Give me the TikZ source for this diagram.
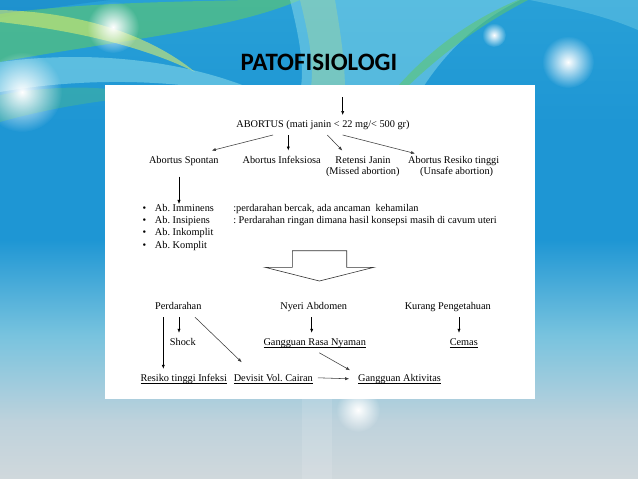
\documentclass[tikz,border=0pt]{standalone}
\usepackage{fontspec}
\setmainfont{Liberation Serif}
\newfontfamily\slideTitleFont{Carlito}
\usetikzlibrary{positioning, arrows.meta, calc, fadings}
\frenchspacing

\definecolor{bgTop}{RGB}{40,160,215}
\definecolor{bgMid}{RGB}{30,150,212}
\definecolor{bgLow}{RGB}{120,195,222}
\definecolor{bgPale}{RGB}{190,210,220}
\definecolor{bgBot}{RGB}{208,216,220}
\definecolor{swGreen}{RGB}{95,200,105}
\definecolor{swYellow}{RGB}{215,235,110}
\definecolor{swCyan}{RGB}{150,225,235}
\definecolor{swDeep}{RGB}{15,120,190}
\definecolor{arrowGray}{RGB}{60,60,60}

\pgfdeclareverticalshading{slidebg}{100bp}{color(0bp)=(bgBot); color(25bp)=(bgBot);
  color(31bp)=(bgPale); color(40bp)=(bgLow); color(50bp)=(bgMid); color(62bp)=(bgMid);
  color(75bp)=(bgTop); color(100bp)=(bgTop)}
\tikzfading[name=softglow, inner color=transparent!0, outer color=transparent!100]

\def\rowOne{127.5}
\def\rowTwo{163}
\def\lineGap{11.7}
\def\rowA{309.7}
\def\rowB{345.3}
\def\rowC{381.3}

\newcommand{\ulText}[1]{\underline{\smash{#1}}}
\newcommand{\PatoStyles}{
  \tikzset{
    term/.style={inner sep=0pt, outer sep=5pt, anchor=base,
      text height=7.5pt, text depth=2.5pt,
      font=\fontsize{10.3}{12}\selectfont},
    listbox/.style={inner sep=0pt, outer sep=0pt, anchor=base west,
      font=\fontsize{10.3}{12.2}\selectfont},
    titletext/.style={inner sep=0pt, font=\slideTitleFont\bfseries\fontsize{25}{29}\selectfont},
    arr/.style={-{Latex[length=4pt,width=3.2pt]}, line width=0.55pt, draw=black},
    slant/.style={arr, draw=arrowGray},
    glow/.style={white, path fading=softglow}
  }
}

\begin{document}
\begin{tikzpicture}[x=1pt, y=-1pt]
  \PatoStyles
  \useasboundingbox (0,0) rectangle (638,479);

  % slide background
  \fill[shading=slidebg] (0,0) rectangle (638,479);
  \fill[swDeep, opacity=.35] (0,0) -- (110,0) .. controls (60,6) and (25,12) .. (0,18) -- cycle;
  \fill[swGreen, opacity=.6] (0,14) .. controls (70,4) and (150,2) .. (250,0) -- (300,0)
    .. controls (230,30) and (120,40) .. (0,62) -- cycle;
  \fill[swYellow, opacity=.6] (0,10) .. controls (80,12) and (150,35) .. (195,72)
    .. controls (140,45) and (70,30) .. (0,22) -- cycle;
  \fill[swCyan, opacity=.5] (0,62) .. controls (90,50) and (180,60) .. (250,88)
    -- (250,96) .. controls (170,78) and (80,78) .. (0,92) -- cycle;
  \fill[swGreen, opacity=.3] (0,95) .. controls (60,84) and (110,86) .. (150,96)
    .. controls (100,100) and (50,108) .. (0,122) -- cycle;
  \fill[swCyan, opacity=.45] (290,0) .. controls (300,40) and (305,70) .. (300,92) -- (420,92)
    .. controls (440,60) and (470,25) .. (520,0) -- cycle;
  \fill[swYellow, opacity=.25] (300,0) .. controls (310,40) and (315,70) .. (310,92) -- (345,92)
    .. controls (345,60) and (340,30) .. (335,0) -- cycle;
  \fill[swGreen, opacity=.55] (398,86) .. controls (430,50) and (470,20) .. (518,0) -- (528,0)
    .. controls (480,25) and (440,55) .. (406,88) -- cycle;
  \fill[swCyan, opacity=.3] (530,0) .. controls (580,10) and (610,18) .. (638,30) -- (638,0) -- cycle;
  \fill[glow] (113,27) circle (26);
  \fill[glow] (22,92) circle (40);
  \fill[glow] (494,35) circle (12);
  \fill[glow] (568,62) circle (26);
  \fill[glow] (358,410) circle (22);
  \fill[white, opacity=.12] (302,399) rectangle (332,479);

  % title and white panel
  \node[titletext] (title) at (319,62) {PATOFISIOLOGI};
  \fill[white] (105,85) rectangle (535,399);

  % upper tree
  \coordinate (intop) at (342.7,97);
  \node[term] (abortus) at (323,\rowOne) {ABORTUS (mati janin < 22 mg/< 500 gr)};
  \node[term] (spontan) at (183.8,\rowTwo) {Abortus Spontan};
  \node[term] (infeksi) at (281.7,\rowTwo) {Abortus Infeksiosa};
  \node[term] (retensi) at (363,\rowTwo) {Retensi Janin};
  \node[term] (missed) at ($(retensi.base)+(-0.2,\lineGap)$) {(Missed abortion)};
  \node[term] (unsafe) at (453.7,\rowTwo) {Abortus Resiko tinggi};
  \node[term] (unsafeb) at ($(unsafe.base)+(3,\lineGap)$) {(Unsafe abortion)};

  \node[listbox] (sublist) at (142.5,211.5) {%
    \begin{tabular}[t]{@{}p{12.5pt}@{}p{78.3pt}@{}l@{}}
      \textbullet & Ab. Imminens & :perdarahan bercak, ada ancaman\ \ kehamilan\\
      \textbullet & Ab. Insipiens & : Perdarahan ringan dimana hasil konsepsi masih di cavum uteri\\
      \textbullet & Ab. Inkomplit & \\
      \textbullet & Ab. Komplit &
    \end{tabular}};

  \draw[arr] (intop) -- (intop |- abortus.north);
  \draw[slant] ([xshift=-50pt]abortus.south) -- ([xshift=28pt]spontan.north);
  \draw[arr] ([xshift=-34.7pt]abortus.south) -- ([xshift=6.6pt]infeksi.north);
  \draw[slant] ([xshift=4.3pt]abortus.south) -- ([xshift=-20.7pt]retensi.north);
  \draw[slant] ([xshift=19.7pt]abortus.south) -- ([xshift=-38.7pt,yshift=-3pt]unsafe.north);
  \draw[arr, shorten >=5pt] ([xshift=-4.8pt,yshift=-6pt]spontan.south)
    -- ([xshift=-4.8pt,yshift=-6pt]spontan.south |- sublist.north);

  % hollow arrow
  \draw[line width=0.6pt, black!80] (292.3,250.7) -- (346.7,250.7) -- (346.7,267.3) -- (374,267.3)
    -- (319.3,281) -- (265,267.3) -- (292.3,267.3) -- cycle;

  % lower tree
  \node[term] (perdarahan) at (178.3,\rowA) {Perdarahan};
  \node[term] (nyeri) at (313.7,\rowA) {Nyeri Abdomen};
  \node[term] (kurang) at (447.8,\rowA) {Kurang Pengetahuan};
  \node[term] (shock) at (182.8,\rowB) {Shock};
  \node[term] (nyaman) at (314.7,\rowB) {\ulText{Gangguan Rasa Nyaman}};
  \node[term] (cemas) at (463.8,\rowB) {\ulText{Cemas}};
  \node[term] (infeksi2) at (183.7,\rowC) {\ulText{Resiko tinggi Infeksi}};
  \node[term] (cairan) at (273.3,\rowC) {\ulText{Devisit Vol. Cairan}};
  \node[term] (aktivitas) at (399.5,\rowC) {\ulText{Gangguan Aktivitas}};

  \draw[arr] ([xshift=-15pt]perdarahan.south) -- ([xshift=-20.4pt]infeksi2.north);
  \draw[arr] ([xshift=0.7pt]perdarahan.south) -- ([xshift=-3.8pt]shock.north);
  \draw[slant] ([xshift=16.7pt]perdarahan.south) -- ([xshift=-31.6pt,yshift=6.6pt]cairan.north);
  \draw[arr] ([xshift=-2pt]nyeri.south) -- ([xshift=-3pt]nyaman.north);
  \draw[arr] ([xshift=11.2pt]kurang.south) -- ([xshift=-4.8pt]cemas.north);
  \draw[slant] ([xshift=4.6pt]nyaman.south) -- ([xshift=-49.5pt,yshift=-1.4pt]aktivitas.north);
  \draw[slant] ([yshift=1pt]cairan.east) -- ([xshift=-4pt]aktivitas.west);
\end{tikzpicture}
\end{document}
